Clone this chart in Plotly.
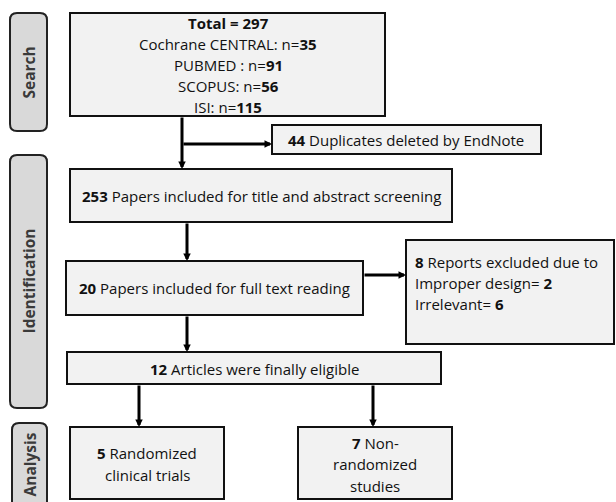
import plotly.graph_objects as go

# ---- data ----
stage_labels = ["Search", "Identification", "Analysis"]
database_names = ["Cochrane CENTRAL", "PUBMED ", "SCOPUS", "ISI"]
database_counts = [35, 91, 56, 115]
total_records = 297
duplicates_removed = 44
screened_papers = 253
fulltext_papers = 20
excluded_reports = 8
exclusion_reasons = ["Improper design", "Irrelevant"]
exclusion_counts = [2, 6]
eligible_articles = 12
rct_count = 5
nonrandomized_count = 7

FONT = "Open Sans, sans-serif"
FS = 15
TXT = "#111111"
BOX_FILL = "#f2f2f2"
SIDE_FILL = "#d9d9d9"

fig = go.Figure()
shapes = []
ann = []


def box(x0, y0, x1, y1, fill=BOX_FILL):
    shapes.append(dict(type="rect", xref="x", yref="y", x0=x0, y0=y0, x1=x1, y1=y1,
                       line=dict(color="#111111", width=2), fillcolor=fill, layer="below"))


def rbox(x0, y0, x1, y1, r=7):
    p = (f"M {x0+r},{y0} L {x1-r},{y0} Q {x1},{y0} {x1},{y0+r} "
         f"L {x1},{y1-r} Q {x1},{y1} {x1-r},{y1} L {x0+r},{y1} "
         f"Q {x0},{y1} {x0},{y1-r} L {x0},{y0+r} Q {x0},{y0} {x0+r},{y0} Z")
    shapes.append(dict(type="path", xref="x", yref="y", path=p,
                       line=dict(color="#222222", width=2), fillcolor=SIDE_FILL, layer="below"))


def text(x, y, s, align="center", size=FS):
    xa = {"center": "center", "left": "left"}[align]
    ann.append(dict(x=x, y=y, xref="x", yref="y", text=s, showarrow=False,
                    xanchor=xa, yanchor="middle", align=align,
                    font=dict(family=FONT, size=size, color=TXT)))


def arrow(x0, y0, x1, y1):
    ann.append(dict(x=x1, y=y1, ax=x0, ay=y0, xref="x", yref="y", axref="x", ayref="y",
                    showarrow=True, arrowhead=2, arrowsize=0.5, arrowwidth=3,
                    arrowcolor="#000000", text="", standoff=0, startstandoff=0))


# side stage labels
side = [(10, 13, 47, 131), (10, 155, 47, 408), (12, 423, 47, 520)]
side_centers = [73, 281, 465]
for (x0, y0, x1, y1), lab, cy in zip(side, stage_labels, side_centers):
    rbox(x0, y0, x1, y1)
    ann.append(dict(x=(x0 + x1) / 2, y=cy, xref="x", yref="y", text=f"<b>{lab}</b>",
                    showarrow=False, textangle=-90,
                    font=dict(family=FONT, size=15.5, color="#3a3a3a")))

# total box
box(70, 13, 385, 116)
text(228, 23, f"<b>Total = {total_records}</b>")
for i, (n, c) in enumerate(zip(database_names, database_counts)):
    text(228, 44 + 21 * i, f"{n}: n=<b>{c}</b>")

# duplicates box
box(272, 125, 541, 154)
text(406, 140, f"<b>{duplicates_removed}</b> Duplicates deleted by EndNote")

# screened
box(70, 169, 452, 222)
text(261, 196, f"<b>{screened_papers}</b> Papers included for title and abstract screening")

# fulltext
box(66, 261, 363, 315)
text(214.5, 288, f"<b>{fulltext_papers}</b> Papers included for full text reading")

# excluded
box(406, 240, 614, 344)
text(413, 262, f"<b>{excluded_reports}</b> Reports excluded due to", align="left")
for i, (r, c) in enumerate(zip(exclusion_reasons, exclusion_counts)):
    text(413, 283 + 21 * i, f"{r}= <b>{c}</b>", align="left")

# eligible
box(67, 352, 441, 384)
text(254, 369, f"<b>{eligible_articles}</b> Articles were finally eligible")

# rct / non-rct
box(70, 427, 224, 499)
text(147, 453, f"<b>{rct_count}</b> Randomized")
text(147, 475, "clinical trials")
box(298, 427, 452, 499)
text(375, 443, f"<b>{nonrandomized_count}</b> Non-")
text(375, 464, "randomized")
text(375, 486, "studies")

# connectors
arrow(182, 116, 182, 169)
arrow(182, 144, 272, 144)
arrow(187, 222, 187, 261)
arrow(363, 275, 406, 275)
arrow(187, 315, 187, 352)
arrow(139, 384, 139, 427)
arrow(373, 384, 373, 427)

fig.update_layout(
    width=616, height=502, margin=dict(l=0, r=0, t=0, b=0),
    paper_bgcolor="white", plot_bgcolor="white",
    xaxis=dict(range=[0, 616], visible=False, fixedrange=True),
    yaxis=dict(range=[502, 0], visible=False, fixedrange=True),
    shapes=shapes, annotations=ann, showlegend=False,
)
fig.write_html("out.html", config={"displayModeBar": False},
               post_script="document.body.style.margin='0';")
